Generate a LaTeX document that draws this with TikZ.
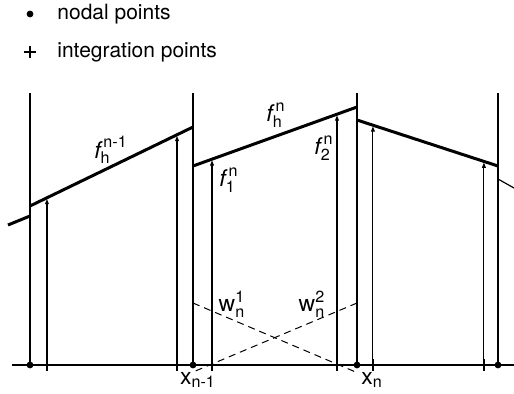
\documentclass[tikz,border=0pt]{standalone}
\usepackage{amsmath}
\usepackage{fontspec}
\setmainfont{TeX Gyre Heros}
\usetikzlibrary{arrows.meta,calc,shapes.misc}

\tikzset{
  elem/.style={line width=1.5pt},
  nodeline/.style={line width=0.55pt},
  intarrow/.style={line width=0.55pt, shorten >=0.6pt, -{Triangle[length=2.6pt,width=1.9pt]}},
  weight/.style={line width=0.5pt, dash pattern=on 3.5pt off 2.5pt},
  nodal/.style={circle, fill, inner sep=0pt, minimum size=3.4pt},
  integ/.style={cross out, draw, rotate=45, minimum size=3.1pt, inner sep=0pt, line width=0.9pt},
  lbl/.style={font=\fontsize{10.5}{12.6}\selectfont, inner sep=0pt},
  flbl/.style={font=\fontsize{11.5}{13.8}\selectfont, inner sep=0pt}
}

\begin{document}
\begin{tikzpicture}[x=0.5pt, y=-0.5pt]

\useasboundingbox (0,0) rectangle (514,393);

% Legend
\node[nodal] (ldot) at (30,14) {};
\node[lbl, anchor=west] (ltext1) at (57,14) {nodal points};
\node[integ] (lplus) at (30,52) {};
\node[lbl, anchor=west] (ltext2) at (57,52) {integration points};

% Axis
\coordinate (axL) at (12,365);
\coordinate (axR) at (514,365);
\draw[nodeline] (axL) -- (axR);

% Nodal lines and points
\foreach \x/\n in {30/1,193/2,357/3,498/4} {
    \coordinate (top\n) at (\x,93);
    \draw[nodeline] (top\n) -- (top\n |- axL);
    \node[nodal] (nd\n) at (top\n |- axL) {};
}

% Element values (thick lines)
\coordinate (A1) at (8,225);   \coordinate (A2) at (30,216);
\coordinate (B1) at (30,206);  \coordinate (B2) at (193,127);
\coordinate (C1) at (193,166); \coordinate (C2) at (357,107);
\coordinate (D1) at (357,120); \coordinate (D2) at (498,166);
\coordinate (E1) at (498,179); \coordinate (E2) at (514,188);

\draw[elem] (A1) -- (A2);
\draw[elem] (B1) -- (B2);
\draw[elem] (C1) -- (C2);
\draw[elem] (D1) -- (D2);
\draw[line width=0.6pt] (E1) -- (E2);

% Integration points with arrows
\foreach \a/\b/\t/\i in {B1/B2/0.104/1, B1/B2/0.902/2, C1/C2/0.116/3,
                         C1/C2/0.878/4, D1/D2/0.113/5, D1/D2/0.90/6} {
    \coordinate (g\i) at ($(\a)!\t!(\b)$);
    \draw[intarrow] (g\i |- axL) -- (g\i);
    \node[integ] (ip\i) at (g\i |- axL) {};
}

% Weight functions
\coordinate (w1s) at (193,303); \coordinate (w1e) at (358,373);
\coordinate (w2s) at (357,303); \coordinate (w2e) at (193,372);
\draw[weight] (w1s) -- (w1e);
\draw[weight] (w2s) -- (w2e);

% Labels
\node[flbl] (fprev) at (111,150) {$\textit{f}^{\,\textrm{n-1}}_{\textrm{h}}$};
\node[flbl] (fcur) at (276,115) {$\textit{f}^{\,\textrm{n}}_{\textrm{h}}$};
\node[flbl] (fone) at (229,180) {$\textit{f}^{\,\textrm{n}}_{\textrm{1}}$};
\node[flbl] (ftwo) at (324,148) {$\textit{f}^{\,\textrm{n}}_{\textrm{2}}$};
\node[flbl] (wone) at (232,304) {$\textrm{w}^{\textrm{1}}_{\textrm{n}}$};
\node[flbl] (wtwo) at (312,304) {$\textrm{w}^{\textrm{2}}_{\textrm{n}}$};
\node[flbl] (xprev) at (198,380) {$\textrm{x}_{\textrm{n-1}}$};
\node[flbl] (xcur) at (372,380) {$\textrm{x}_{\textrm{n}}$};

\end{tikzpicture}
\end{document}
